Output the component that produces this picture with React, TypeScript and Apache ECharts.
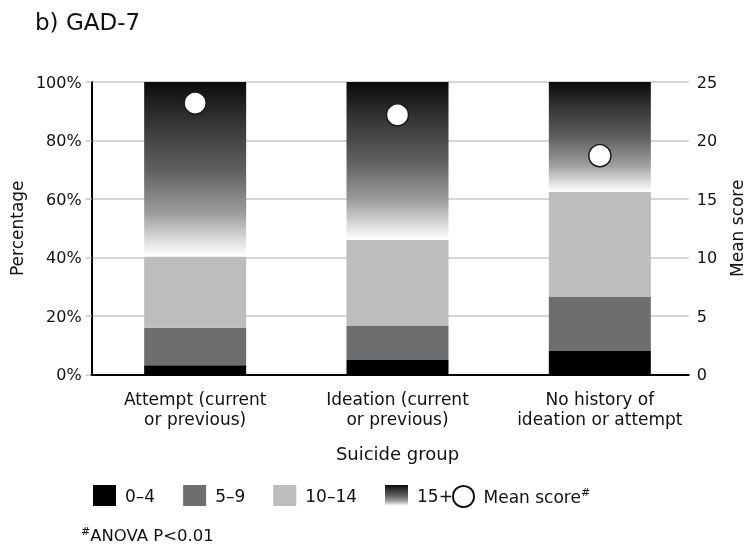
import React, { useEffect, useRef } from "react";
import * as echarts from "echarts";

const FONT = "DejaVu Sans";
const TXT = "#111111";

const categories = [
  "Attempt (current\nor previous)",
  "Ideation (current\nor previous)",
  "No history of\nideation or attempt",
];
const seriesNames = ["0–4", "5–9", "10–14", "15+"];
const score0to4 = [3.2, 5.0, 8.0];
const score5to9 = [12.8, 11.6, 18.5];
const score10to14 = [24.3, 29.4, 35.9];
const score15plus = [59.7, 54.0, 37.6];
const meanScore = [23.2, 22.2, 18.7];
const meanName = "Mean score";

export default function App() {
  const ref = useRef<HTMLDivElement>(null);
  useEffect(() => {
    const chart = echarts.init(ref.current!, null, { renderer: "svg" });
    const grad = new echarts.graphic.LinearGradient(0, 0, 0, 1, [
      { offset: 0, color: "#0b0b0b" },
      { offset: 0.25, color: "#383838" },
      { offset: 0.5, color: "#5f5f5f" },
      { offset: 0.75, color: "#9c9c9c" },
      { offset: 0.92, color: "#e2e2e2" },
      { offset: 1, color: "#ffffff" },
    ]);
    const colors = ["#000000", "#6d6e70", "#bcbdbf", grad];
    const values = [score0to4, score5to9, score10to14, score15plus];
    const gridLine = { color: "#c8c8c8", width: 1.5 };

    chart.setOption({
      animation: false,
      textStyle: { fontFamily: FONT, color: TXT },
      grid: [
        { left: 87, top: 82, width: 615, height: 292.5 },
        { left: 94, top: 82, width: 607, height: 292.5 },
      ],
      xAxis: [
        {
          gridIndex: 0,
          type: "category",
          data: categories,
          z: 10,
          axisLine: { lineStyle: { color: "#000", width: 2 } },
          axisTick: { show: false },
          axisLabel: { show: false },
        },
        {
          gridIndex: 1,
          type: "category",
          data: categories,
          axisLine: { show: false },
          axisTick: { show: false },
          axisLabel: {
            interval: 0,
            hideOverlap: false,
            fontFamily: FONT,
            fontSize: 17,
            color: TXT,
            lineHeight: 20,
            margin: 14,
          },
          name: "Suicide group",
          nameLocation: "middle",
          nameGap: 70,
          nameTextStyle: { fontFamily: FONT, fontSize: 18, color: TXT },
        },
      ],
      yAxis: [
        {
          gridIndex: 0,
          type: "value",
          position: "left",
          min: 0,
          max: 100,
          interval: 20,
          axisLine: { show: true, lineStyle: { color: "#000", width: 2 } },
          axisTick: { show: true, length: 6, lineStyle: gridLine },
          axisLabel: {
            formatter: "{value}%",
            fontFamily: FONT,
            fontSize: 16,
            color: TXT,
            margin: 10,
          },
          splitLine: { show: true, lineStyle: gridLine },
          name: "Percentage",
          nameLocation: "middle",
          nameRotate: 90,
          nameGap: 64,
          nameTextStyle: { fontFamily: FONT, fontSize: 17, color: TXT },
        },
        {
          gridIndex: 0,
          type: "value",
          position: "right",
          min: 0,
          max: 25,
          interval: 5,
          axisLine: { show: false },
          axisTick: { show: false },
          splitLine: { show: false },
          axisLabel: { fontFamily: FONT, fontSize: 16, color: TXT, margin: 8 },
          name: "Mean score",
          nameLocation: "middle",
          nameRotate: 90,
          nameGap: 36,
          nameTextStyle: { fontFamily: FONT, fontSize: 17, color: TXT },
        },
        { gridIndex: 1, type: "value", min: 0, max: 100, show: false },
        { gridIndex: 1, type: "value", min: 0, max: 25, show: false },
      ],
      legend: [
        {
          data: seriesNames,
          left: 88,
          top: 480,
          icon: "rect",
          itemWidth: 23,
          itemHeight: 21,
          itemGap: 28,
          selectedMode: false,
          textStyle: {
            fontFamily: FONT,
            fontSize: 17,
            color: TXT,
            padding: [0, 0, 0, 4],
          },
        },
        {
          data: [{ name: meanName, icon: "circle" }],
          left: 447,
          top: 480,
          itemWidth: 22,
          itemHeight: 21,
          selectedMode: false,
          itemStyle: { color: "#fff", borderColor: "#111", borderWidth: 2, opacity: 1 },
          formatter: (n: string) => `{a|${n}}{b|#}`,
          textStyle: {
            fontFamily: FONT,
            color: TXT,
            padding: [0, 0, 0, 4],
            rich: {
              a: { fontFamily: FONT, fontSize: 17, color: TXT },
              b: {
                fontFamily: FONT,
                fontSize: 11,
                color: TXT,
                verticalAlign: "top",
                padding: [0, 0, 8, 0],
              },
            },
          },
        },
      ],
      graphic: [
        {
          type: "text",
          left: 35,
          top: 10,
          style: {
            text: "b) GAD-7",
            fontFamily: FONT,
            fontSize: 23,
            fill: TXT,
          },
        },
        {
          type: "text",
          left: 81,
          top: 526,
          style: {
            text: "{s|#}{t|ANOVA P<0.01}",
            rich: {
              s: {
                fontFamily: FONT,
                fontSize: 11,
                fill: TXT,
                verticalAlign: "top",
                padding: [0, 0, 8, 0],
              },
              t: { fontFamily: FONT, fontSize: 16.5, fill: TXT },
            },
          },
        },
      ],
      series: [
        ...seriesNames.map((name, i) => ({
          name,
          type: "bar",
          xAxisIndex: 1,
          yAxisIndex: 2,
          stack: "pct",
          barWidth: 102,
          itemStyle: { color: colors[i] },
          data: values[i],
        })),
        {
          name: meanName,
          type: "scatter",
          xAxisIndex: 1,
          yAxisIndex: 3,
          symbol: "circle",
          symbolSize: 22,
          z: 5,
          itemStyle: {
            color: "#fff",
            borderColor: "#1a1a1a",
            borderWidth: 1.5,
            opacity: 1,
          },
          data: meanScore,
        },
      ],
    });
    return () => chart.dispose();
  }, []);
  return (
    <div
      ref={ref}
      style={{ position: "fixed", left: 0, top: 0, width: 753, height: 546 }}
    />
  );
}
